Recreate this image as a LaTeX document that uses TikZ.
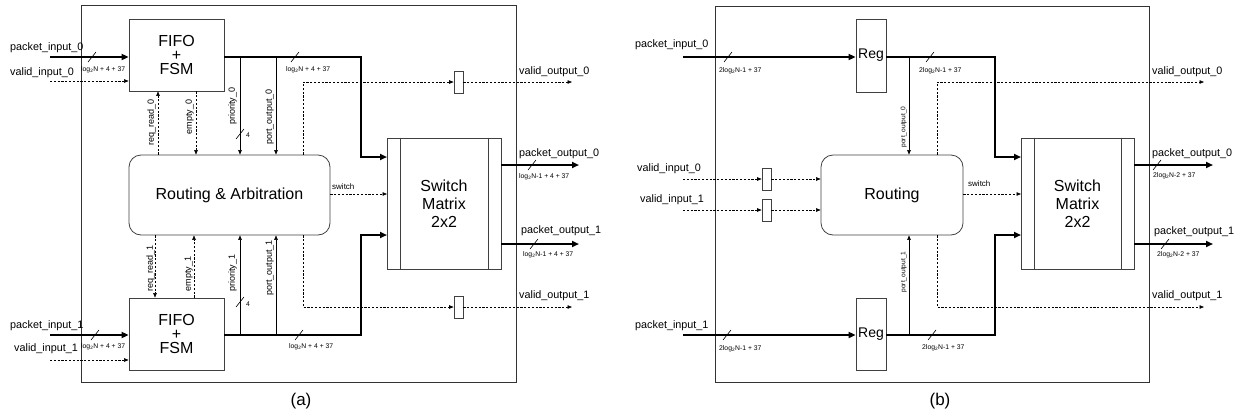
\documentclass[tikz,border=0pt]{standalone}
\usepackage{fontspec}
\setmainfont{Liberation Sans}
\usetikzlibrary{arrows.meta}
\usetikzlibrary{positioning}

\tikzset{
    busmark/.pic={\draw[line width=0.6pt] (-4,5) -- (4,-5);}
}

\begin{document}
\begin{tikzpicture}[
            x=1pt, y=-1pt,
            blockbox/.style={rectangle, align=center, draw=black!75, line width=0.8pt, inner sep=0pt, font=\fontsize{16}{14}\selectfont},
            validreg/.style={rectangle, draw=black!75, line width=0.7pt, inner sep=0pt, minimum width=9pt, minimum height=22pt},
            framebox/.style={draw=black!80, line width=0.8pt},
            busline/.style={line width=2.4pt, -{Triangle[length=7pt, width=6pt]}},
            sigline/.style={line width=0.6pt, -{Triangle[length=4.5pt, width=3.5pt]}},
            ctlline/.style={sigline, dash pattern=on 2.2pt off 1.6pt},
            siglabel/.style={inner sep=0pt, anchor=base west, font=\fontsize{10.8}{12}\selectfont},
            widthlabel/.style={inner sep=0pt, anchor=base west, font=\fontsize{6.8}{8}\selectfont},
            vlabel/.style={rotate=90, anchor=south, inner sep=1pt, font=\fontsize{9}{9}\selectfont},
            caption/.style={inner sep=0pt, font=\fontsize{17}{17}\selectfont},
        ]
        \useasboundingbox (0,0) rectangle (1240,416);

        % Frames.
        \draw[framebox] (81,5) rectangle (516,382);
        \draw[framebox] (715,6) rectangle (1149,382);

        % Nodes (a).
        \node[blockbox, minimum width=95pt, minimum height=72pt]  (fifo_0)    at (176.5,55)  {FIFO\\+\\FSM};
        \node[blockbox, minimum width=95pt, minimum height=72pt]  (fifo_1)    at (176.5,334) {FIFO\\+\\FSM};
        \node[blockbox, rounded corners=12pt, minimum width=201pt, minimum height=80pt] (routing_a) at (229.5,195) {Routing \& Arbitration};
        \node[blockbox, minimum width=114pt, minimum height=131pt, font=\fontsize{16}{18}\selectfont] (switch_a) at (444,203.5) {Switch\\Matrix\\2x2};
        \node[validreg] (vreg_a0) at (458.5,82)  {};
        \node[validreg] (vreg_a1) at (458.5,307) {};

        % Nodes (b).
        \node[blockbox, minimum width=30pt, minimum height=73pt, font=\fontsize{14}{14}\selectfont] (reg_0) at (871,55.5) {Reg};
        \node[blockbox, minimum width=30pt, minimum height=72pt, font=\fontsize{14}{14}\selectfont] (reg_1) at (871,334)  {Reg};
        \node[blockbox, rounded corners=12pt, minimum width=142pt, minimum height=80pt] (routing_b) at (892,195) {Routing};
        \node[blockbox, minimum width=113pt, minimum height=131pt, font=\fontsize{16}{18}\selectfont] (switch_b) at (1077.5,203.5) {Switch\\Matrix\\2x2};
        \node[validreg] (vreg_b0) at (766.5,179) {};
        \node[validreg] (vreg_b1) at (766.5,210) {};

        % Switch matrix side bars.
        \draw[draw=black!75, line width=0.7pt] ([xshift=14pt]switch_a.north west) -- ([xshift=14pt]switch_a.south west);
        \draw[draw=black!75, line width=0.7pt] ([xshift=-13pt]switch_a.north east) -- ([xshift=-13pt]switch_a.south east);
        \draw[draw=black!75, line width=0.7pt] ([xshift=14pt]switch_b.north west) -- ([xshift=14pt]switch_b.south west);
        \draw[draw=black!75, line width=0.7pt] ([xshift=-13pt]switch_b.north east) -- ([xshift=-13pt]switch_b.south east);

        % Coordinates (a).
        \coordinate (pin_a0)  at (50,57);
        \coordinate (vin_a0)  at (50,81);
        \coordinate (pin_a1)  at (50,335);
        \coordinate (vin_a1)  at (50,360);
        \coordinate (bus_a)   at (361,0);
        \coordinate (sw_a0)   at (387,157);
        \coordinate (sw_a1)   at (387,235);
        \coordinate (sel_a)   at (387,194);
        \coordinate (req_a0)  at (158,0);
        \coordinate (req_a1)  at (155,0);
        \coordinate (emp_a0)  at (196,0);
        \coordinate (emp_a1)  at (194,0);
        \coordinate (prio_a)  at (240,0);
        \coordinate (port_a)  at (276,0);
        \coordinate (vout_a)  at (303,0);
        \coordinate (vend_a0) at (572,82);
        \coordinate (vend_a1) at (572,307);
        \coordinate (pout_a0) at (579,165);
        \coordinate (pout_a1) at (579,244);

        % Lines (a).
        \draw[busline] (pin_a0) -- (pin_a0 -| fifo_0.west);
        \draw[ctlline] (vin_a0) -- (vin_a0 -| fifo_0.west);
        \draw[busline] (pin_a1) -- (pin_a1 -| fifo_1.west);
        \draw[ctlline] (vin_a1) -- (vin_a1 -| fifo_1.west);
        \draw[busline] (fifo_0.east |- pin_a0) -- (bus_a |- pin_a0) -- (bus_a |- sw_a0) -- (sw_a0);
        \draw[busline] (fifo_1.east |- pin_a1) -- (bus_a |- pin_a1) -- (bus_a |- sw_a1) -- (sw_a1);
        \draw[ctlline] (req_a0 |- routing_a.north) -- (req_a0 |- fifo_0.south);
        \draw[ctlline] (emp_a0 |- fifo_0.south) -- (emp_a0 |- routing_a.north);
        \draw[sigline] (prio_a |- pin_a0) -- (prio_a |- routing_a.north);
        \draw[sigline] (port_a |- pin_a0) -- (port_a |- routing_a.north);
        \draw[ctlline] (req_a1 |- routing_a.south) -- (req_a1 |- fifo_1.north);
        \draw[ctlline] (emp_a1 |- fifo_1.north) -- (emp_a1 |- routing_a.south);
        \draw[sigline] (prio_a |- pin_a1) -- (prio_a |- routing_a.south);
        \draw[sigline] (port_a |- pin_a1) -- (port_a |- routing_a.south);
        \draw[ctlline] (sel_a -| routing_a.east) -- (sel_a);
        \draw[ctlline] (vout_a |- routing_a.north) -- (vout_a |- vreg_a0) -- (vreg_a0.west);
        \draw[ctlline] (vreg_a0.east) -- (vend_a0);
        \draw[ctlline] (vout_a |- routing_a.south) -- (vout_a |- vreg_a1) -- (vreg_a1.west);
        \draw[ctlline] (vreg_a1.east) -- (vend_a1);
        \draw[busline] (pout_a0 -| switch_a.east) -- (pout_a0);
        \draw[busline] (pout_a1 -| switch_a.east) -- (pout_a1);

        % Bus widths (a).
        \pic at (92,57) {busmark};
        \pic at (95,335) {busmark};
        \pic at (295,57) {busmark};
        \pic at (299,335) {busmark};
        \pic at (240,134) {busmark};
        \pic at (240,302) {busmark};
        \pic at (532,165) {busmark};
        \pic at (534,244) {busmark};

        % Labels (a).
        \node[siglabel] (l_pin_a0)  at (10,50)   {packet\_input\_0};
        \node[siglabel] (l_vin_a0)  at (10,75)   {valid\_input\_0};
        \node[siglabel] (l_pin_a1)  at (10,328)  {packet\_input\_1};
        \node[siglabel] (l_vin_a1)  at (14,351)  {valid\_input\_1};
        \node[siglabel] (l_vout_a0) at (519,74)  {valid\_output\_0};
        \node[siglabel] (l_vout_a1) at (519,298) {valid\_output\_1};
        \node[siglabel] (l_pout_a0) at (519,156) {packet\_output\_0};
        \node[siglabel] (l_pout_a1) at (521,233) {packet\_output\_1};
        \node[widthlabel] (w_pin_a0)  at (81,71)   {log\textsubscript{2}N + 4 + 37};
        \node[widthlabel] (w_pin_a1)  at (81,348)  {log\textsubscript{2}N + 4 + 37};
        \node[widthlabel] (w_out_a0)  at (286,71)  {log\textsubscript{2}N + 4 + 37};
        \node[widthlabel] (w_out_a1)  at (289,348) {log\textsubscript{2}N + 4 + 37};
        \node[widthlabel] (w_pout_a0) at (519,178) {log\textsubscript{2}N-1 + 4 + 37};
        \node[widthlabel] (w_pout_a1) at (523,256) {log\textsubscript{2}N-1 + 4 + 37};
        \node[widthlabel] (w_prio_a0) at (246,137) {4};
        \node[widthlabel] (w_prio_a1) at (246,306) {4};
        \node[siglabel, font=\fontsize{8}{8}\selectfont] (l_sel_a) at (332,189) {switch};
        \node[vlabel] (l_req_a0)  at (157,122) {req\_read\_0};
        \node[vlabel] (l_emp_a0)  at (195,117) {empty\_0};
        \node[vlabel] (l_prio_a0) at (238,106) {priority\_0};
        \node[vlabel] (l_port_a0) at (275,117) {port\_output\_0};
        \node[vlabel] (l_req_a1)  at (156,268) {req\_read\_1};
        \node[vlabel] (l_emp_a1)  at (194,274) {empty\_1};
        \node[vlabel] (l_prio_a1) at (238,273) {priority\_1};
        \node[vlabel] (l_port_a1) at (275,268) {port\_output\_1};
        \node[caption] (cap_a) at (301,401) {(a)};

        % Coordinates (b).
        \coordinate (pin_b0)  at (683,57);
        \coordinate (pin_b1)  at (683,335);
        \coordinate (vin_b0)  at (683,179);
        \coordinate (vin_b1)  at (683,210);
        \coordinate (bus_b)   at (995,0);
        \coordinate (sw_b0)   at (1021,157);
        \coordinate (sw_b1)   at (1021,235);
        \coordinate (sel_b)   at (1021,194);
        \coordinate (port_b)  at (909,0);
        \coordinate (vout_b)  at (937,0);
        \coordinate (vend_b0) at (1204,82);
        \coordinate (vend_b1) at (1204,307);
        \coordinate (pout_b0) at (1213,165);
        \coordinate (pout_b1) at (1213,244);

        % Lines (b).
        \draw[busline] (pin_b0) -- (pin_b0 -| reg_0.west);
        \draw[busline] (pin_b1) -- (pin_b1 -| reg_1.west);
        \draw[busline] (reg_0.east |- pin_b0) -- (bus_b |- pin_b0) -- (bus_b |- sw_b0) -- (sw_b0);
        \draw[busline] (reg_1.east |- pin_b1) -- (bus_b |- pin_b1) -- (bus_b |- sw_b1) -- (sw_b1);
        \draw[sigline] (port_b |- pin_b0) -- (port_b |- routing_b.north);
        \draw[sigline] (port_b |- pin_b1) -- (port_b |- routing_b.south);
        \draw[ctlline] (vin_b0) -- (vreg_b0.west);
        \draw[ctlline] (vreg_b0.east) -- (vreg_b0.east -| routing_b.west);
        \draw[ctlline] (vin_b1) -- (vreg_b1.west);
        \draw[ctlline] (vreg_b1.east) -- (vreg_b1.east -| routing_b.west);
        \draw[ctlline] (sel_b -| routing_b.east) -- (sel_b);
        \draw[ctlline] (vout_b |- routing_b.north) -- (vout_b |- vend_b0) -- (vend_b0);
        \draw[ctlline] (vout_b |- routing_b.south) -- (vout_b |- vend_b1) -- (vend_b1);
        \draw[busline] (pout_b0 -| switch_b.east) -- (pout_b0);
        \draw[busline] (pout_b1 -| switch_b.east) -- (pout_b1);

        % Bus widths (b).
        \pic at (728,57) {busmark};
        \pic at (727,335) {busmark};
        \pic at (930,57) {busmark};
        \pic at (932,335) {busmark};
        \pic at (1157,165) {busmark};
        \pic at (1165,244) {busmark};

        % Labels (b).
        \node[siglabel] (l_pin_b0)  at (635,47)   {packet\_input\_0};
        \node[siglabel] (l_pin_b1)  at (635,328)  {packet\_input\_1};
        \node[siglabel] (l_vin_b0)  at (637,171)  {valid\_input\_0};
        \node[siglabel] (l_vin_b1)  at (640,202)  {valid\_input\_1};
        \node[siglabel] (l_vout_b0) at (1152,74)  {valid\_output\_0};
        \node[siglabel] (l_vout_b1) at (1152,298) {valid\_output\_1};
        \node[siglabel] (l_pout_b0) at (1152,156) {packet\_output\_0};
        \node[siglabel] (l_pout_b1) at (1154,234) {packet\_output\_1};
        \node[widthlabel] (w_pin_b0)  at (719,72)   {2log\textsubscript{2}N-1 + 37};
        \node[widthlabel] (w_pin_b1)  at (719,350)  {2log\textsubscript{2}N-1 + 37};
        \node[widthlabel] (w_out_b0)  at (919,72)   {2log\textsubscript{2}N-1 + 37};
        \node[widthlabel] (w_out_b1)  at (922,349)  {2log\textsubscript{2}N-1 + 37};
        \node[widthlabel] (w_pout_b0) at (1153,177) {2log\textsubscript{2}N-2 + 37};
        \node[widthlabel] (w_pout_b1) at (1157,256) {2log\textsubscript{2}N-2 + 37};
        \node[siglabel, font=\fontsize{8}{8}\selectfont] (l_sel_b) at (968,186) {switch};
        \node[vlabel, font=\fontsize{6.6}{7}\selectfont] (l_port_b0) at (908,127) {port\_output\_0};
        \node[vlabel, font=\fontsize{6.6}{7}\selectfont] (l_port_b1) at (908,272) {port\_output\_1};
        \node[caption] (cap_b) at (940,401) {(b)};
    \end{tikzpicture}
\end{document}
